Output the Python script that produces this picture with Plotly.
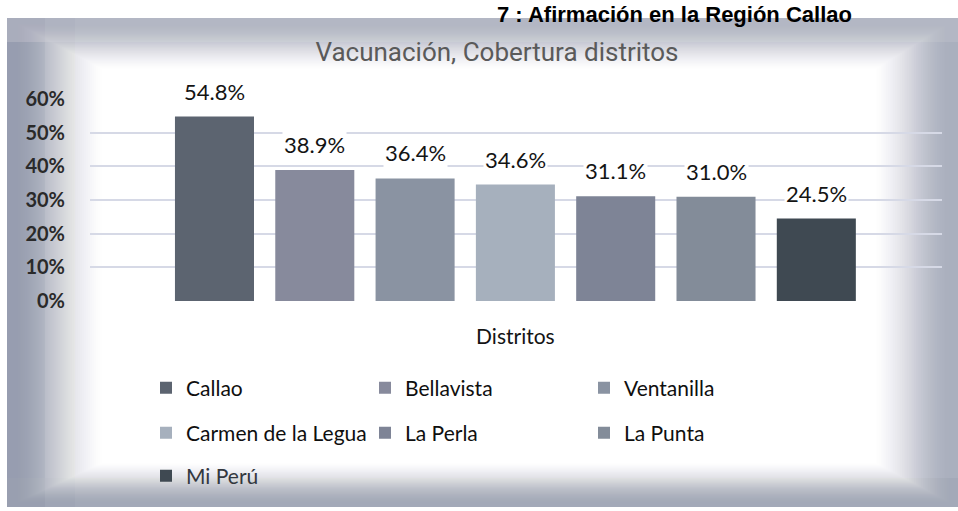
import plotly.graph_objects as go

# ---- data ----
districts = ["Callao", "Bellavista", "Ventanilla", "Carmen de la Legua",
             "La Perla", "La Punta", "Mi Perú"]
coverage = [0.548, 0.389, 0.364, 0.346, 0.311, 0.310, 0.245]
colors = ["#5c6470", "#878a9c", "#8a93a2", "#a6b0bd", "#7e8496", "#838c99", "#3f4952"]
legend_ids = ["legend", "legend", "legend", "legend2", "legend2", "legend2", "legend3"]
y_ticks = [0, 0.1, 0.2, 0.3, 0.4, 0.5, 0.6]
x_label = "Distritos"
chart_title = "Vacunación, Cobertura distritos"
header_text = "7 : Afirmación en la Región Callao"

W, H = 958, 511
L, R, T, B = 90, 16, 99, 210
PW, PH = W - L - R, H - T - B


def px(x):
    return (x - L) / PW


def py(y):
    return (H - B - y) / PH


fig = go.Figure()
for i, (name, val, col, lg) in enumerate(zip(districts, coverage, colors, legend_ids)):
    fig.add_trace(go.Bar(
        x=[i], y=[val], name=name, marker=dict(color=col, line=dict(width=0)),
        width=0.788, legend=lg, hoverinfo="name+y",
    ))

annotations = []
for i, val in enumerate(coverage):
    annotations.append(dict(
        x=i, y=val, xref="x", yref="y", text=f"{val*100:.1f}%",
        showarrow=False, yanchor="bottom", yshift=10,
        font=dict(family="Lato", size=22, color="#141414"),
        bgcolor="white", borderpad=1,
    ))

annotations.append(dict(
    x=px(495), y=py(0), xref="paper", yref="paper", text=header_text,
    showarrow=False, xanchor="left", yanchor="top",
    font=dict(family="Liberation Sans", size=22, color="black", weight="bold"),
))

# ---- scanned vignette frame ----
shapes = []
O = (7, 18, 958, 507)
I = (104, 70, 874, 462)


def rect(x0, y0, x1, y1, color, opacity=1.0):
    return dict(type="rect", xref="paper", yref="paper", layer="below",
                x0=px(x0), x1=px(x1), y0=py(y1), y1=py(y0),
                fillcolor=color, opacity=opacity, line=dict(width=0))


shapes.append(rect(*O, "#aab0be"))
shapes.append(rect(7, 18, 45, 507, "#8b91a6", 0.55))
shapes.append(rect(7, 18, 75, 507, "#959bae", 0.35))
shapes.append(rect(7, 478, 958, 507, "#9ca2b2", 0.45))
shapes.append(rect(7, 18, 958, 42, "#bfc2cb", 0.45))

N = 48


def remain(t):
    s = t * t * (3 - 2 * t)
    return 1 - s


prev = 1.0
for k in range(1, N):
    t = k / N
    r = remain(t)
    a = 1 - r / prev
    prev = r
    x0 = O[0] + t * (I[0] - O[0])
    y0 = O[1] + t * (I[1] - O[1])
    x1 = O[2] + t * (I[2] - O[2])
    y1 = O[3] + t * (I[3] - O[3])
    shapes.append(rect(x0, y0, x1, y1, "white", min(max(a, 0), 1)))
shapes.append(rect(*I, "white"))

leg_common = dict(orientation="h", xanchor="left", yanchor="middle",
                  entrywidth=174, entrywidthmode="pixels", bgcolor="rgba(0,0,0,0)",
                  itemclick=False, itemdoubleclick=False)

fig.update_layout(
    width=W, height=H,
    margin=dict(l=L, r=R, t=T, b=B),
    paper_bgcolor="white", plot_bgcolor="rgba(0,0,0,0)",
    barmode="overlay",
    title=dict(text=chart_title, x=497 / W, xref="container", xanchor="center",
               y=1 - 52 / H, yref="container", yanchor="middle",
               font=dict(family="Roboto", size=26, color="#5a5a5a")),
    xaxis=dict(range=[-1.241, 7.253], tickmode="array", tickvals=[3], ticktext=[x_label],
               showgrid=False, zeroline=False, showline=False, ticks="",
               ticklabelstandoff=21,
               tickfont=dict(family="Lato", size=21, color="#141414"), fixedrange=True),
    yaxis=dict(range=[0, 0.6], tickmode="array", tickvals=y_ticks, tickformat=".0%",
               showgrid=True, gridcolor="#d6d9e6", gridwidth=1.6, zeroline=False,
               showline=False, ticks="", ticklabelstandoff=24,
               tickfont=dict(family="Lato", size=20, color="#2a2a2a", weight="bold"),
               fixedrange=True),
    legend=dict(x=px(146), y=py(388), font=dict(family="Lato", size=21, color="#0f0f0f"),
                **leg_common),
    legend2=dict(x=px(146), y=py(433), font=dict(family="Lato", size=21, color="#0f0f0f"),
                 **leg_common),
    legend3=dict(x=px(146), y=py(476), font=dict(family="Lato", size=21, color="#333840"),
                 **leg_common),
    annotations=annotations,
    shapes=shapes,
    showlegend=True,
)

fig.write_html("out.html", config={"displayModeBar": False})

# remove the default page margin so the figure sits at the window's corner
with open("out.html", encoding="utf-8") as f:
    html = f.read()
html = html.replace("<head>", "<head><style>html,body{margin:0;padding:0;overflow:hidden;}</style>", 1)
with open("out.html", "w", encoding="utf-8") as f:
    f.write(html)
